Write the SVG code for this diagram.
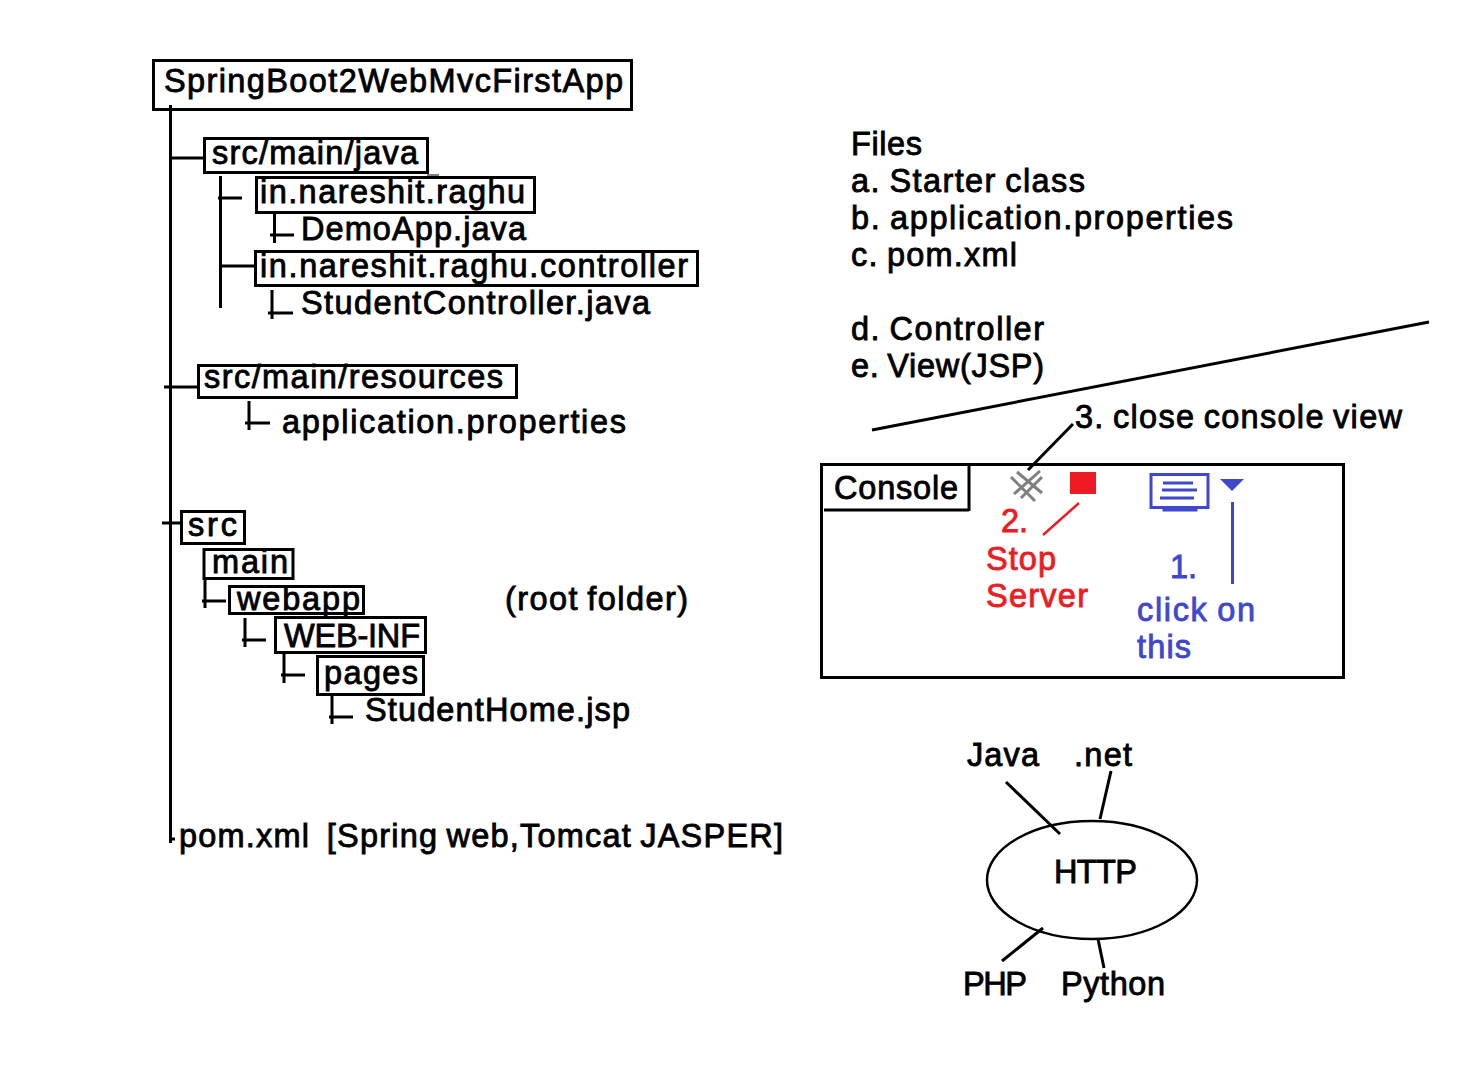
<svg xmlns="http://www.w3.org/2000/svg" width="1474" height="1072" viewBox="0 0 1474 1072">
<style>
text{font-family:"Liberation Sans",Arial,sans-serif;font-size:32.5px;fill:#000;stroke:#000;stroke-width:.85px;word-spacing:-2px}
.b{fill:none;stroke:#000;stroke-width:3}
.l{fill:none;stroke:#000;stroke-width:3}
text.r{fill:#ed1c24;stroke:#ed1c24}
text.u{fill:#3f48cc;stroke:#3f48cc}
.lr{stroke:#ed1c24;stroke-width:2.5;fill:none}
.lu{stroke:#3f48cc;stroke-width:3;fill:none}
.g{stroke:#7f7f7f;stroke-width:3;fill:none}
</style>
<rect width="1474" height="1072" fill="#fff"/>
<g id="connectors">
<path class="l" d="M170.500 105V843M170 839H175M172 158H204M220.500 176V308M218 198H242M274.500 213V243M270 235H294M220 266H255M272 290V319M268 313H293M164 387H198M249 401V430M245 423H270M162 523H181M205 579V608M202 601H226M245 618V647M242 640H266M284 653V683M281 675H305M332 695V724M329 717H353"/>
<path d="M427 175H439" stroke="#000" stroke-width="1"/>
<path class="l" d="M872 430L1429 322M1073 424L1028 470"/>
<path class="lr" d="M1079 503L1043 535"/>
<path class="lu" d="M1232.500 502V584"/>
<path class="l" d="M1006 782L1060 834M1111 771L1100 819M1043 928L1002 961M1098 939L1104 968"/>
</g>
<g id="root"><rect class="b" x="153.500" y="60.500" width="478" height="49"/><text x="164" y="92" textLength="459">SpringBoot2WebMvcFirstApp</text></g>
<g id="src-main-java"><rect class="b" x="204.500" y="138.500" width="223" height="34"/><text x="212" y="164" textLength="206">src/main/java</text></g>
<g id="pkg"><rect class="b" x="256.500" y="177.500" width="278" height="35"/><text x="260" y="203" textLength="265">in.nareshit.raghu</text></g>
<g id="demoapp"><text x="301" y="240" textLength="225">DemoApp.java</text></g>
<g id="pkg-controller"><rect class="b" x="255.500" y="251.500" width="442" height="34"/><text x="260" y="277" textLength="428">in.nareshit.raghu.controller</text></g>
<g id="studentcontroller"><text x="301" y="314" textLength="349">StudentController.java</text></g>
<g id="src-main-resources"><rect class="b" x="198.500" y="365.500" width="318" height="32"/><text x="204" y="388" textLength="299">src/main/resources</text></g>
<g id="appprops"><text x="282" y="433" textLength="344">application.properties</text></g>
<g id="src"><rect class="b" x="181.500" y="511.500" width="63" height="32"/><text x="188" y="536" textLength="49">src</text></g>
<g id="main"><rect class="b" x="204" y="549.500" width="89" height="29"/><text x="212" y="573" textLength="76">main</text></g>
<g id="webapp"><rect class="b" x="229.500" y="586.500" width="134" height="27"/><text x="237" y="610" textLength="123">webapp</text></g>
<g id="rootfolder"><text x="505" y="610" textLength="183">(root folder)</text></g>
<g id="webinf"><rect class="b" x="275.500" y="617.500" width="150" height="35"/><text x="284" y="647" textLength="136">WEB-INF</text></g>
<g id="pages"><rect class="b" x="317.500" y="656.500" width="106" height="38"/><text x="324" y="684" textLength="94">pages</text></g>
<g id="studenthome"><text x="365" y="721" textLength="265">StudentHome.jsp</text></g>
<g id="pom"><text x="179" y="847" textLength="604" xml:space="preserve">pom.xml  [Spring web,Tomcat JASPER]</text></g>
<g id="files">
<text x="851" y="155" textLength="71">Files</text>
<text x="851" y="192" textLength="234">a. Starter class</text>
<text x="851" y="229" textLength="382">b. application.properties</text>
<text x="851" y="266" textLength="166">c. pom.xml</text>
<text x="851" y="340" textLength="193">d. Controller</text>
<text x="851" y="377" textLength="193">e. View(JSP)</text>
</g>
<g id="step3"><text x="1075" y="428" textLength="327">3. close console view</text></g>
<g id="console">
<rect x="821.500" y="464.500" width="522" height="213" fill="none" stroke="#000" stroke-width="3"/>
<path class="l" d="M969 464V511M824 510H969"/>
<text x="834" y="499" textLength="124">Console</text>
</g>
<g id="close-icon"><path class="g" d="M1011 477L1035 501M1017 472L1042 493M1040 471L1014 494M1042 477L1021 498"/></g>
<g id="stop"><rect x="1070" y="472" width="26" height="22" fill="#ed1c24"/>
<text class="r" x="1001" y="532">2.</text>
<text class="r" x="986" y="570" textLength="70">Stop</text>
<text class="r" x="986" y="607" textLength="102">Server</text></g>
<g id="view-icon">
<rect class="lu" x="1151" y="474.500" width="57" height="33"/>
<path class="lu" d="M1164 507V510H1196V507"/>
<path class="lu" stroke-width="2" d="M1163 483H1193M1162 490H1197M1160 498H1194"/>
<path d="M1220 479H1244L1232 491Z" fill="#3f48cc"/>
<text class="u" x="1170" y="578">1.</text>
<text class="u" x="1137" y="621" textLength="118">click on</text>
<text class="u" x="1137" y="658" textLength="54">this</text>
</g>
<g id="http"><ellipse cx="1092" cy="880" rx="105" ry="59" fill="none" stroke="#000" stroke-width="2.500"/><text x="1054" y="883" textLength="83">HTTP</text></g>
<g id="java"><text x="967" y="766" textLength="72">Java</text></g>
<g id="net"><text x="1074" y="766" textLength="58">.net</text></g>
<g id="php"><text x="963" y="995" textLength="64">PHP</text></g>
<g id="python"><text x="1061" y="995" textLength="104">Python</text></g>
</svg>
